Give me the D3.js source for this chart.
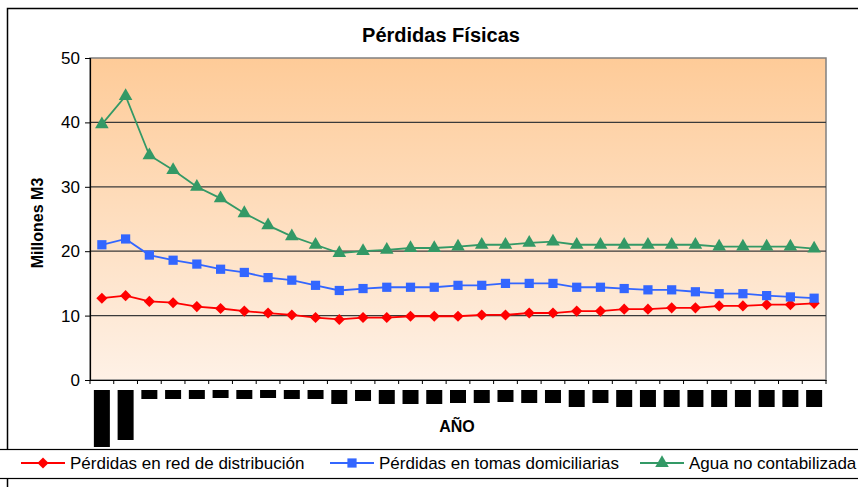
<!DOCTYPE html>
<html lang="es">
<head>
<meta charset="utf-8">
<title>Pérdidas Físicas</title>
<script src="https://d3js.org/d3.v7.min.js"></script>
<style>
  body { margin: 0; background: #fff; }
  svg { display: block; font-family: "Liberation Sans", Arial, sans-serif; }
</style>
</head>
<body>
<div id="main"></div>
<script>
// categories (year labels are unreadable in the source, shown as blocks)
var categories = [1,2,3,4,5,6,7,8,9,10,11,12,13,14,15,16,17,18,19,20,21,22,23,24,25,26,27,28,29,30,31];

var redDistribucion = [12.7,13.1,12.2,12.0,11.4,11.1,10.7,10.4,10.1,9.7,9.4,9.7,9.7,9.9,9.9,9.9,
                       10.1,10.1,10.4,10.4,10.7,10.7,11.0,11.0,11.2,11.2,11.5,11.5,11.7,11.7,11.9];
var tomasDomiciliarias = [21.0,21.9,19.4,18.6,18.0,17.2,16.7,15.9,15.5,14.7,13.9,14.2,14.4,14.4,14.4,14.7,
                          14.7,15.0,15.0,15.0,14.4,14.4,14.2,14.0,14.0,13.7,13.4,13.4,13.1,12.9,12.7];
var aguaNoContabilizada = [39.7,44.1,34.9,32.6,30.0,28.2,25.9,24.0,22.3,21.0,19.7,20.0,20.2,20.5,20.5,20.7,
                           21.0,21.0,21.3,21.5,21.0,21.0,21.0,21.0,21.0,21.0,20.7,20.7,20.7,20.7,20.4];

var yTicks = [0,10,20,30,40,50];
var seriesNames = ["Pérdidas en red de distribución", "Pérdidas en tomas domiciliarias", "Agua no contabilizada"];

// height of the black label blocks under each category
var blockHeights = [57,50,9,9,9,8,9,8,9,9,14,11,14,14,14,13,13,12,13,13,17,13,17,17,17,17,17,17,17,17,17];

var w = 858, h = 487;
var plotLeft = 90, plotRight = 826, plotTop = 58, plotBottom = 380;

var svg = d3.select("#main").append("svg")
    .attr("width", w).attr("height", h);

// outer chart frame
svg.append("rect")
    .attr("x", 7.5).attr("y", 8.5)
    .attr("width", 900).attr("height", 600)
    .attr("fill", "#fff").attr("stroke", "#000").attr("stroke-width", 1.5);

var x = d3.scaleBand().domain(categories).range([plotLeft, plotRight]);
var y = d3.scaleLinear().domain([0, 50]).range([plotBottom, plotTop]);

// plot background gradient
var grad = svg.append("defs").append("linearGradient")
    .attr("id", "bg").attr("x1", 0).attr("y1", 0).attr("x2", 0).attr("y2", 1);
grad.append("stop").attr("offset", "0%").attr("stop-color", "#FECB98");
grad.append("stop").attr("offset", "100%").attr("stop-color", "#FEF1E6");

svg.append("rect")
    .attr("x", plotLeft).attr("y", plotTop)
    .attr("width", plotRight - plotLeft).attr("height", plotBottom - plotTop)
    .attr("fill", "url(#bg)")
    .attr("stroke", "#808080").attr("stroke-width", 1.5);

// gridlines
svg.selectAll("line.grid")
    .data(yTicks.filter(function(d) { return d > 0 && d < 50; }))
    .enter().append("line")
    .attr("class", "grid")
    .attr("x1", plotLeft).attr("x2", plotRight)
    .attr("y1", function(d) { return y(d); })
    .attr("y2", function(d) { return y(d); })
    .attr("stroke", "#3a3a3a").attr("stroke-width", 1.2);

// y axis
var yAxis = d3.axisLeft(y).tickValues(yTicks).tickSize(5).tickPadding(5);
var gy = svg.append("g").attr("transform", "translate(" + plotLeft + ",0)").call(yAxis);
gy.select(".domain").attr("stroke", "#000").attr("stroke-width", 1.2);
gy.selectAll(".tick line").attr("stroke", "#000");
gy.selectAll("text").attr("font-size", 17).attr("fill", "#000")
    .attr("font-family", "Liberation Sans, Arial, sans-serif");

// x axis ticks at category boundaries
var xAxis = d3.axisBottom(x).tickSize(0).tickFormat("");
var gx = svg.append("g").attr("transform", "translate(0," + plotBottom + ")").call(xAxis);
gx.select(".domain").attr("stroke", "#000").attr("stroke-width", 1.2);
gx.selectAll("line.bound")
    .data(categories.concat([null]))
    .enter().append("line")
    .attr("class", "bound")
    .attr("x1", function(d, i) { return plotLeft + i * x.step(); })
    .attr("x2", function(d, i) { return plotLeft + i * x.step(); })
    .attr("y1", 0).attr("y2", 4)
    .attr("stroke", "#000");

// black label blocks
svg.selectAll("rect.lbl")
    .data(categories)
    .enter().append("rect")
    .attr("class", "lbl")
    .attr("x", function(d) { return x(d) + x.bandwidth() / 2 - 8; })
    .attr("y", 390)
    .attr("width", 16)
    .attr("height", function(d, i) { return blockHeights[i]; })
    .attr("fill", "#000");

// series
var series = [
  { name: seriesNames[0], values: redDistribucion, color: "#FF0000", symbol: d3.symbolSquare, size: 62, rot: 45 },
  { name: seriesNames[1], values: tomasDomiciliarias, color: "#3366FF", symbol: d3.symbolSquare, size: 85, rot: 0 },
  { name: seriesNames[2], values: aguaNoContabilizada, color: "#339966", symbol: d3.symbolTriangle, size: 80, rot: 0 }
];

var line = d3.line()
    .x(function(d, i) { return x(categories[i]) + x.bandwidth() / 2; })
    .y(function(d) { return y(d); });

series.forEach(function(s) {
  svg.append("path")
      .datum(s.values)
      .attr("d", line)
      .attr("fill", "none")
      .attr("stroke", s.color)
      .attr("stroke-width", 1.8);

  svg.selectAll(null)
      .data(s.values)
      .enter().append("path")
      .attr("d", d3.symbol().type(s.symbol).size(s.size))
      .attr("transform", function(d, i) {
        return "translate(" + (x(categories[i]) + x.bandwidth() / 2) + "," + y(d) + ") rotate(" + s.rot + ")";
      })
      .attr("fill", s.color);
});

// titles
svg.append("text")
    .attr("x", 441).attr("y", 42)
    .attr("text-anchor", "middle")
    .attr("font-size", 20).attr("font-weight", "bold")
    .text("Pérdidas Físicas");

svg.append("text")
    .attr("transform", "translate(43,223) rotate(-90)")
    .attr("text-anchor", "middle")
    .attr("font-size", 16).attr("font-weight", "bold")
    .text("Millones M3");

svg.append("text")
    .attr("x", 457).attr("y", 432)
    .attr("text-anchor", "middle")
    .attr("font-size", 16).attr("font-weight", "bold")
    .text("AÑO");

// legend
svg.append("rect")
    .attr("x", -2).attr("y", 449.5)
    .attr("width", 870).attr("height", 29)
    .attr("fill", "#fff").attr("stroke", "#000").attr("stroke-width", 1.2);

var legendX = [21, 330, 640];
var lg = svg.selectAll("g.leg")
    .data(series)
    .enter().append("g")
    .attr("class", "leg")
    .attr("transform", function(d, i) { return "translate(" + legendX[i] + ",463)"; });

lg.append("line")
    .attr("x1", 0).attr("x2", 44)
    .attr("stroke", function(d) { return d.color; })
    .attr("stroke-width", 1.8);
lg.append("path")
    .attr("d", function(d) { return d3.symbol().type(d.symbol).size(d.size)(); })
    .attr("transform", function(d) { return "translate(22,0) rotate(" + d.rot + ")"; })
    .attr("fill", function(d) { return d.color; });
lg.append("text")
    .attr("x", 49).attr("y", 6)
    .attr("font-size", 17)
    .attr("fill", "#000")
    .text(function(d) { return d.name; });
</script>
</body>
</html>
